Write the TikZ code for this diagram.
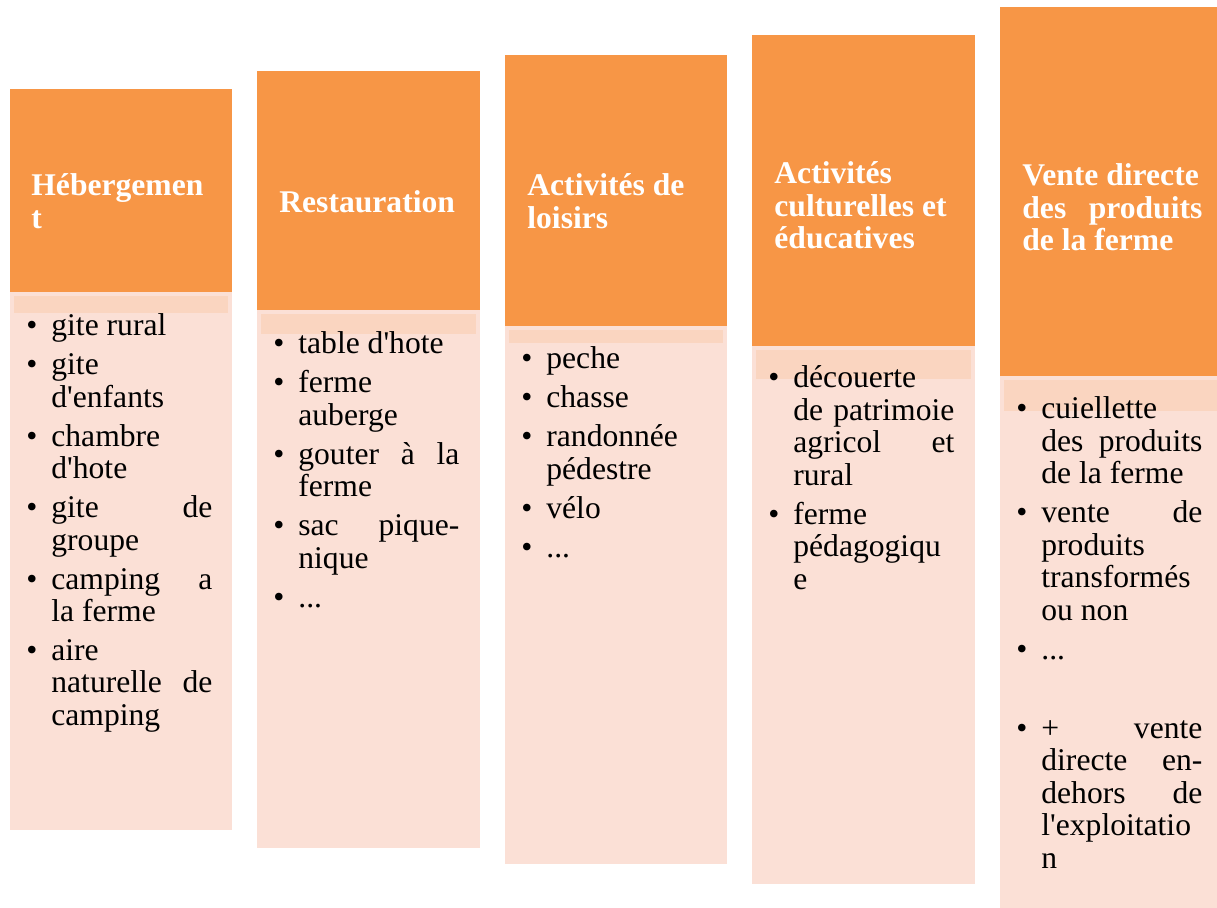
\documentclass[tikz,border=0pt]{standalone}
\usepackage{fontspec}
\setmainfont{Liberation Serif}[Ligatures=TeXOff]
\usepackage{tikz}
\usetikzlibrary{positioning}

\definecolor{hdrorange}{HTML}{F79646}
\definecolor{bodypeach}{HTML}{FBE0D6}
\definecolor{strippeach}{HTML}{FAD5C0}

\hyphenpenalty=10000
\exhyphenpenalty=10000
\newcommand{\itm}[1]{\noindent\hangindent=12.5pt\hangafter=1\makebox[12.5pt][l]{\textbullet}#1\par}

\begin{document}
\begin{tikzpicture}
	[x=0.5pt,y=-0.5pt,
	 hdr/.style={anchor=base west,inner sep=0pt,text=white,font=\bfseries\fontsize{15.8pt}{16.25pt}\selectfont},
	 lst/.style={anchor=base west,inner sep=0pt,font=\fontsize{15.8pt}{16.25pt}\selectfont}]
	\useasboundingbox (0,0) rectangle (1217,908);

	% columns: header, body, strip
	\foreach \xa/\xb/\ya/\yb/\yc/\yd in
	{10/232/89/292/313/830, 257/480/71/310/334/848, 505/727/55/326/343/864,
	 752/975/35/346/379/884, 1000/1222/7/376/411/912}
	{
	\fill[hdrorange] (\xa,\ya) rectangle (\xb,\yb);
	\fill[bodypeach] (\xa,\yb) rectangle (\xb,\yd);
	\fill[strippeach] (\xa+4,\yb+4) rectangle (\xb-4,\yc);
	}

	% headers
	\node[hdr] (h1) at (31,196) {\parbox[t]{90pt}{Hébergemen\\t}};
	\node[hdr] (h2) at (279,213) {\parbox[t]{90pt}{Restauration}};
	\node[hdr] (h3) at (527,196) {\parbox[t]{90pt}{Activités de\\loisirs}};
	\node[hdr] (h4) at (774,184) {\parbox[t]{90pt}{Activités\\culturelles et\\éducatives}};
	\node[hdr] (h5) at (1022,186) {\parbox[t]{90pt}{Vente directe\\des\hfill produits\\de la ferme}};

	% lists
	\node[lst] (b1) at (26,336) {\parbox[t]{93pt}{\setlength{\parskip}{3.2pt}%
		\itm{gite rural}
		\itm{gite\\d'enfants}
		\itm{chambre\\d'hote}
		\itm{gite\hfill de\\groupe}
		\itm{camping\hfill a\\la ferme}
		\itm{aire\\naturelle\hfill de\\camping}}};
	\node[lst] (b2) at (273,354) {\parbox[t]{93pt}{\setlength{\parskip}{3.2pt}%
		\itm{table d'hote}
		\itm{ferme\\auberge}
		\itm{gouter\hfill à\hfill la\\ferme}
		\itm{sac\hfill pique-\\nique}
		\itm{...}}};
	\node[lst] (b3) at (521,369) {\parbox[t]{93pt}{\setlength{\parskip}{3.2pt}%
		\itm{peche}
		\itm{chasse}
		\itm{randonnée\\pédestre}
		\itm{vélo}
		\itm{...}}};
	\node[lst] (b4) at (768,388) {\parbox[t]{93pt}{\setlength{\parskip}{3.2pt}%
		\itm{découerte\\de\hfill patrimoie\\agricol\hfill et\\rural}
		\itm{ferme\\pédagogiqu\\e}}};
	\node[lst] (b5) at (1016,419) {\parbox[t]{93pt}{\setlength{\parskip}{3.2pt}%
		\itm{cuiellette\\des\hfill produits\\de la ferme}
		\itm{vente\hfill de\\produits\\transformés\\ou non}
		\itm{...}
		\vspace{20pt}
		\itm{+\hfill vente\\directe\hfill en-\\dehors\hfill de\\l'exploitatio\\n}}};
\end{tikzpicture}
\end{document}
